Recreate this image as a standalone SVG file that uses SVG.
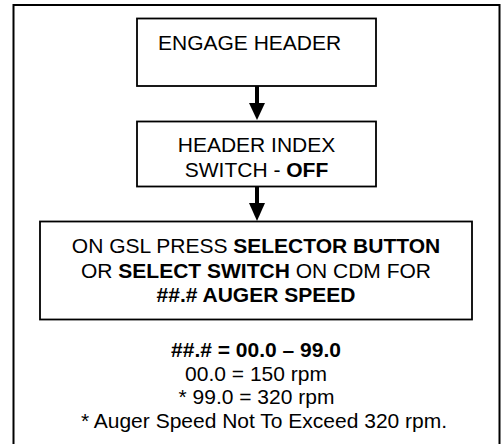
<svg xmlns="http://www.w3.org/2000/svg" width="501" height="444" viewBox="0 0 501 444">
<style>
text{font-family:"Liberation Sans",Arial,sans-serif;font-size:21px;fill:#000}
.c{text-anchor:middle}
.b{font-weight:bold}
.box{fill:#fff;stroke:#000;stroke-width:1.8}
.shaft{stroke:#000;stroke-width:4}
.head{fill:#000}
</style>
<rect x="0" y="0" width="501" height="444" fill="#fff"/>
<rect id="frame" x="13.5" y="5" width="486" height="460" fill="none" stroke="#000" stroke-width="2"/>
<g id="connectors">
<line class="shaft" x1="257" y1="86" x2="257" y2="105"/>
<polygon class="head" points="249,103 265,103 257,120"/>
<line class="shaft" x1="257" y1="187" x2="257" y2="205"/>
<polygon class="head" points="249,203 265,203 257,221"/>
</g>
<g id="engage-header">
<rect class="box" x="137" y="18.5" width="239" height="67.5"/>
<text x="158" y="50">ENGAGE HEADER</text>
</g>
<g id="header-index-switch">
<rect class="box" x="137" y="121.5" width="239" height="65"/>
<text class="c" x="256.5" y="151.5">HEADER INDEX</text>
<text class="c" x="256.5" y="176.5">SWITCH - <tspan class="b">OFF</tspan></text>
</g>
<g id="selector">
<rect class="box" x="40" y="221.5" width="432" height="98" stroke-width="2.4"/>
<text class="c" x="256" y="253">ON GSL PRESS <tspan class="b">SELECTOR BUTTON</tspan></text>
<text class="c" x="256" y="277.5">OR <tspan class="b">SELECT SWITCH</tspan> ON CDM FOR</text>
<text class="c b" x="256" y="301.5">##.# AUGER SPEED</text>
</g>
<g id="notes">
<text class="c b" x="256" y="357">##.# = 00.0 – 99.0</text>
<text class="c" x="256" y="380.5">00.0 = 150 rpm</text>
<text class="c" x="256.5" y="404">* 99.0 = 320 rpm</text>
<text class="c" x="264" y="427.5" font-size="20.3">* Auger Speed Not To Exceed 320 rpm.</text>
</g>
</svg>
